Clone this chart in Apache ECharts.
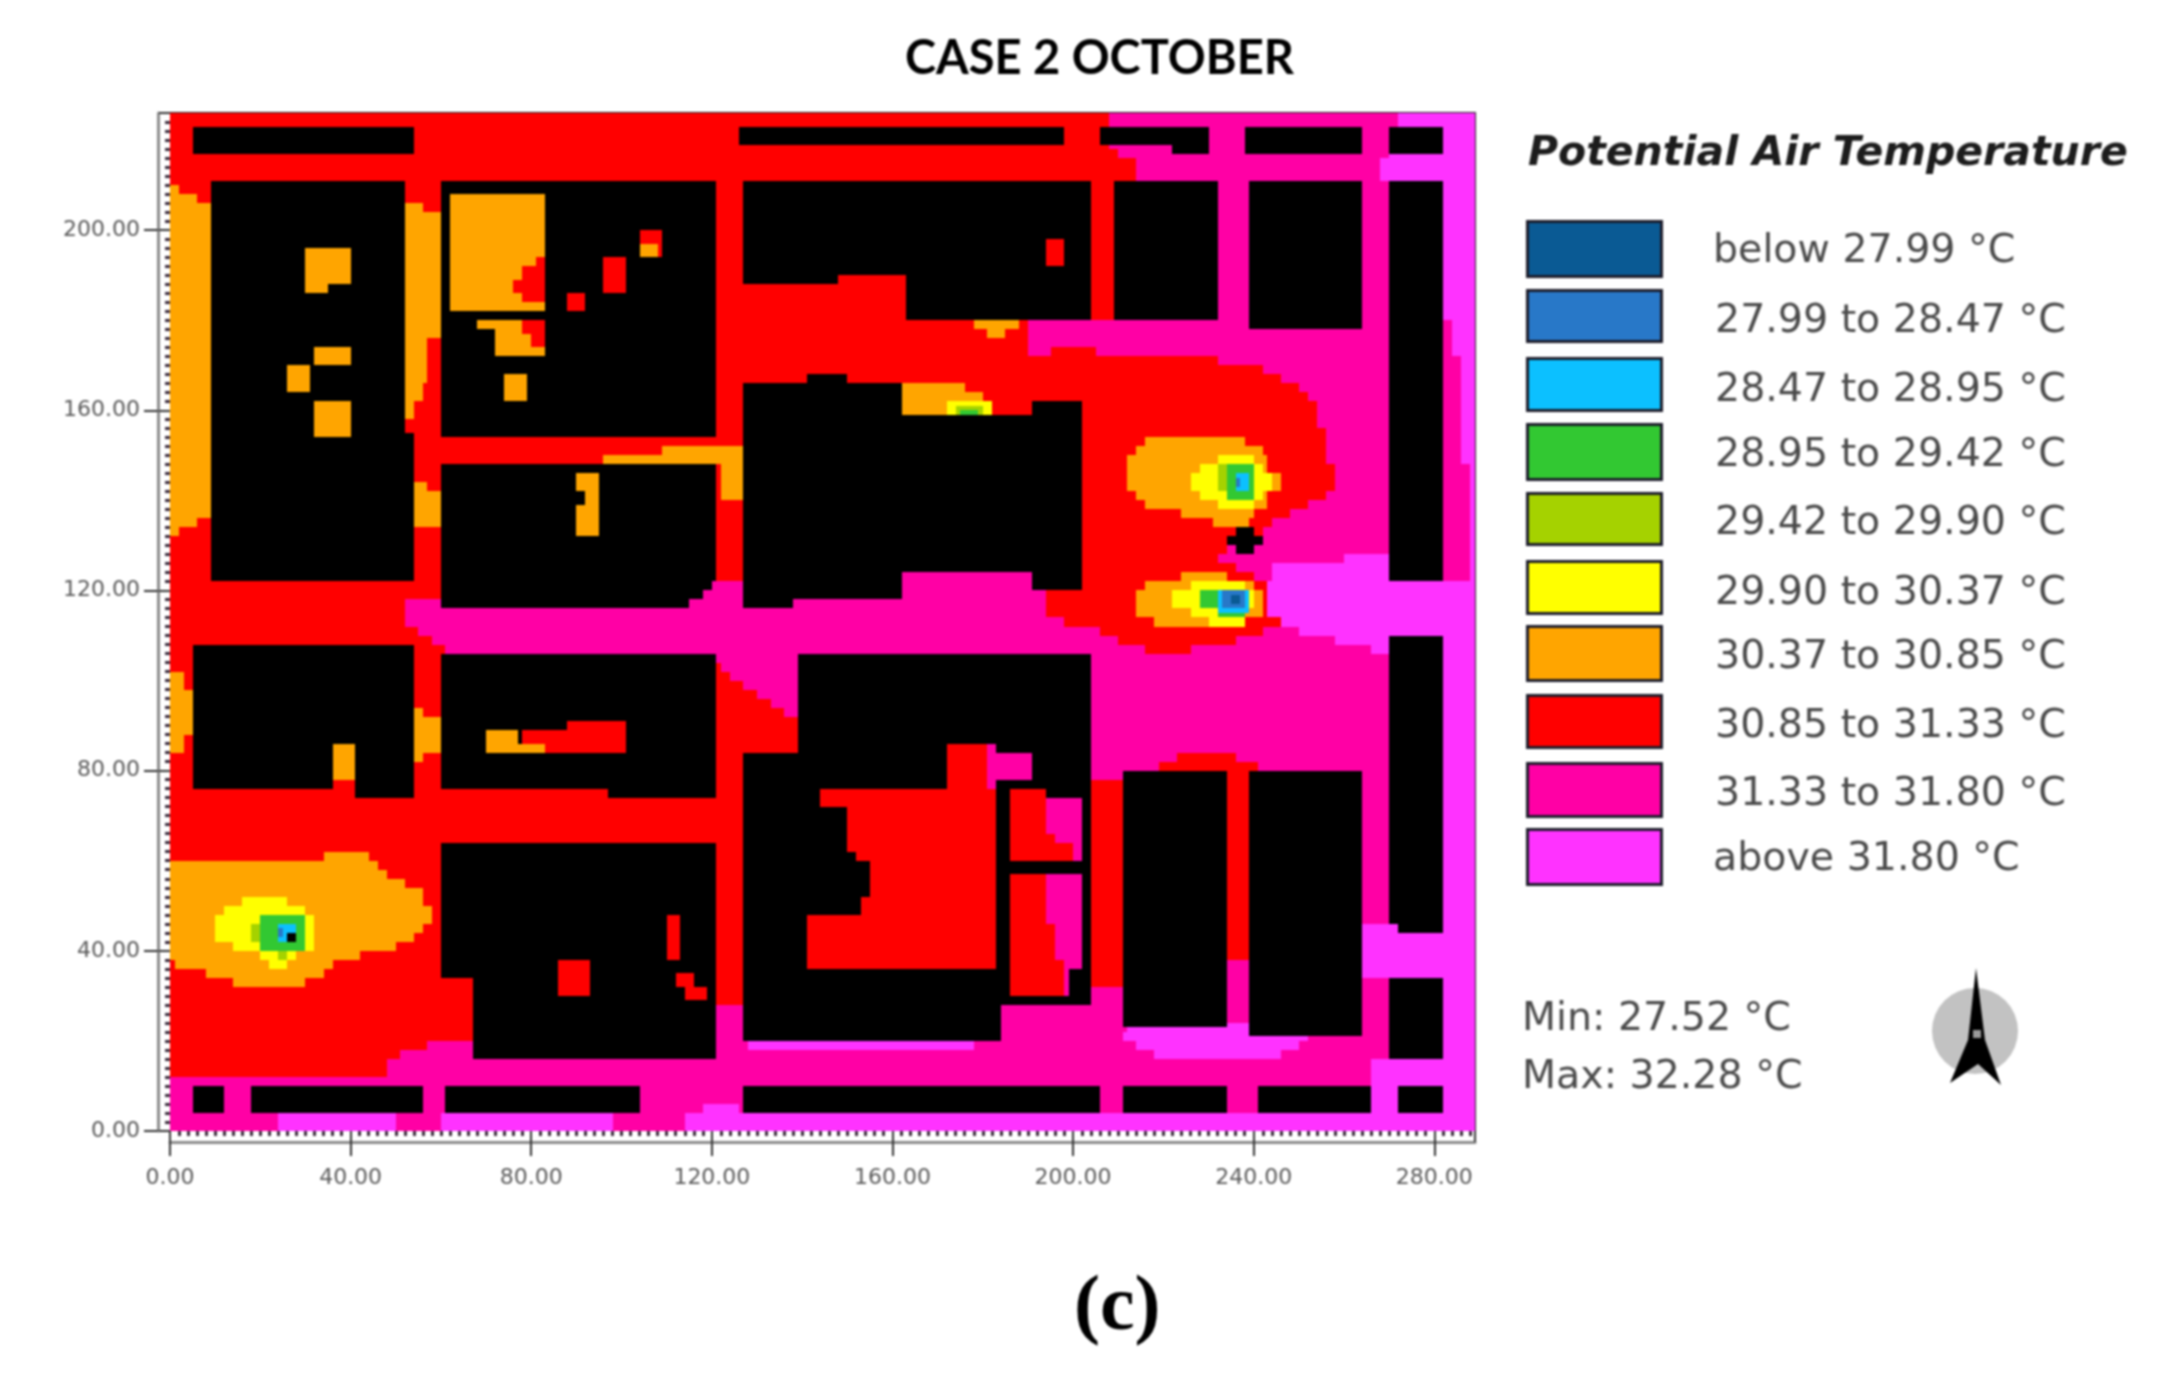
<!DOCTYPE html>
<html>
<head>
<meta charset="utf-8">
<style>html,body{margin:0;background:#fff}#chart{width:2162px;height:1374px;filter:blur(0.8px)}</style>
<script src="https://cdn.jsdelivr.net/npm/echarts@6/dist/echarts.min.js"></script>
</head>
<body>
<div id="chart"></div>
<script>
// temperature classes, coolest first. K = building
const classCodes = ['B', 'U', 'C', 'G', 'L', 'Y', 'O', 'R', 'M', 'P', 'K'];
const classColors = ['#0a5a94', '#2878c8', '#0cc0ff', '#32c832', '#a5d200', '#ffff00', '#ffa500', '#ff0000', '#ff00a5', '#ff32ff', '#000000'];
const legendLabels = ['below 27.99 °C', '27.99 to 28.47 °C', '28.47 to 28.95 °C', '28.95 to 29.42 °C', '29.42 to 29.90 °C',
    '29.90 to 30.37 °C', '30.37 to 30.85 °C', '30.85 to 31.33 °C', '31.33 to 31.80 °C', 'above 31.80 °C'];
const minMaxLabels = ['Min: 27.52 °C', 'Max: 32.28 °C'];

// air field, top down: [top of band, class + right end of each run]
const fieldBands = [
    [226, 'R208 M272 P290'], [222, 'R208 M276 P290'], [218, 'R210 M270 P290'], [216, 'R214 M268 P290'],
    [211, 'R210 M282 P290'], [180, 'R190 M284 P290'], [174, 'R190 M195 R205 M284 P290'],
    [172, 'R232 M286 P290'], [170, 'R242 M286 P290'], [168, 'R246 M286 P290'], [166, 'R250 M286 P290'],
    [164, 'R252 M286 P290'], [162, 'R254 M286 P290'], [156, 'R256 M286 P290'], [148, 'R258 M288 P290'],
    [142, 'R256 M288 P290'], [140, 'R252 M288 P290'], [138, 'R248 M288 P290'], [136, 'R244 M288 P290'],
    [134, 'R242 M288 P290'], [132, 'R234 M288 P290'], [128, 'R232 M260 P270 M288 P290'],
    [126, 'R236 M244 P270 M288 P290'], [124, 'R162 M194 R240 M244 P270 M288 P290'],
    [122, 'R60 M194 R243 P290'], [118, 'R52 M194 R243 P290'], [114, 'R52 M198 R246 P290'],
    [112, 'R55 M206 R242 M250 P290'], [110, 'R58 M210 R236 M258 P290'], [108, 'R61 M216 R226 M266 P290'],
    [106, 'R62 M270 P290'], [104, 'R122 M270 P290'], [102, 'R124 M270 P290'], [100, 'R127 M270 P290'],
    [98, 'R130 M270 P290'], [96, 'R133 M270 P290'], [94, 'R136 M270 P290'], [92, 'R139 M270 P290'],
    [86, 'R181 M270 P290'], [84, 'R181 M223 R236 M270 P290'], [82, 'R181 M219 R241 M270 P290'],
    [80, 'R181 M230 R241 M270 P290'], [78, 'R181 M204 R241 M270 P290'], [76, 'R194 M204 R241 M270 P290'],
    [66, 'R196 M204 R241 M270 P290'], [64, 'R200 M204 R241 M270 P290'], [60, 'R194 M204 R241 M270 P290'],
    [46, 'R196 M204 R241 M264 P290'], [38, 'R198 M204 R212 M264 P290'], [34, 'R198 M204 R212 M270 P290'],
    [32, 'R198 M270 P290'], [28, 'R121 M270 P290'], [20, 'R57 M270 P290'], [18, 'R51 M270 P290'],
    [16, 'R48 M266 P290'], [12, 'M266 P290'], [4, 'M24 P50 M60 P98 M114 P290'],
];

// warm and hot pockets: [class, x0, x1, y0, y1]
const airPatches = [
    ['O', 0, 2, 208, 210], ['O', 0, 6, 206, 208], ['O', 0, 9, 136, 206], ['O', 0, 6, 134, 136], ['O', 0, 2, 132, 134],
    ['O', 52, 56, 204, 206], ['O', 52, 60, 176, 204], ['O', 52, 57, 166, 176], ['O', 52, 56, 162, 166], ['O', 52, 54, 158, 162],
    ['O', 54, 57, 142, 144], ['O', 54, 60, 134, 142],
    ['O', 109, 127, 150, 152], ['O', 96, 127, 148, 150], ['O', 122, 127, 140, 148],
    ['O', 0, 3, 98, 102], ['O', 0, 5, 88, 98], ['O', 0, 3, 84, 88],
    ['O', 54, 56, 92, 94], ['O', 54, 60, 84, 92], ['O', 54, 56, 82, 84],
    ['O', 36, 41, 78, 86], ['O', 178, 188, 178, 180], ['O', 181, 185, 176, 178],
    ['P', 212, 240, 22, 24], ['P', 211, 252, 20, 22], ['P', 214, 250, 18, 20], ['P', 218, 246, 16, 18],
    ['P', 128, 178, 18, 20], ['P', 264, 270, 36, 46], ['P', 266, 272, 10, 16], ['P', 118, 126, 4, 6],
];
const plumeWest = [
    ['O', 34, 44, 60, 62], ['O', 0, 46, 58, 60], ['O', 0, 48, 56, 58], ['O', 0, 52, 54, 56], ['O', 0, 56, 50, 54],
    ['O', 0, 58, 46, 50], ['O', 0, 56, 44, 46], ['O', 0, 54, 42, 44], ['O', 0, 50, 40, 42], ['O', 0, 42, 38, 40],
    ['O', 1, 36, 36, 38], ['O', 8, 34, 34, 36], ['O', 14, 30, 32, 34],
    ['Y', 16, 26, 50, 52], ['Y', 12, 30, 48, 50], ['Y', 10, 32, 42, 48], ['Y', 14, 32, 40, 42], ['Y', 20, 28, 38, 40], ['Y', 22, 26, 36, 38],
    ['L', 18, 20, 42, 46], ['G', 20, 30, 40, 48], ['L', 24, 26, 38, 40], ['C', 24, 28, 42, 46], ['U', 24, 25, 43, 45],
];
const plumeEastUpper = [
    ['O', 216, 238, 152, 154], ['O', 214, 242, 150, 152], ['O', 212, 243, 146, 150], ['O', 212, 246, 142, 146],
    ['O', 214, 243, 140, 142], ['O', 216, 243, 138, 140], ['O', 224, 240, 136, 138], ['O', 231, 239, 134, 136],
    ['Y', 232, 240, 148, 150], ['Y', 228, 242, 146, 148], ['Y', 226, 244, 142, 146], ['Y', 228, 242, 140, 142], ['Y', 232, 240, 138, 140],
    ['L', 232, 234, 142, 148], ['G', 234, 240, 140, 148], ['C', 236, 239, 142, 146], ['U', 236, 237, 143, 145],
];
const plumeEastLower = [
    ['O', 224, 234, 122, 124], ['O', 216, 240, 120, 122], ['O', 214, 242, 114, 120], ['O', 218, 238, 112, 114],
    ['Y', 226, 238, 120, 122], ['Y', 222, 240, 116, 120], ['Y', 226, 238, 114, 116], ['Y', 230, 238, 112, 114],
    ['G', 228, 233, 116, 120], ['G', 232, 238, 114, 116], ['C', 232, 239, 115, 120], ['U', 233, 238, 116, 120], ['B', 235, 237, 117, 119],
];
const plumeNorth = [
    ['O', 162, 176, 164, 166], ['O', 162, 180, 162, 164], ['O', 162, 182, 158, 162],
    ['Y', 172, 182, 158, 162], ['L', 174, 180, 159, 161], ['G', 175, 179, 158, 160],
];

// building footprints: [x0, x1, y0, y1]
const footprints = [
    [5, 54, 217, 223], [126, 198, 219, 223], [206, 222, 219, 223], [222, 230, 217, 223], [238, 264, 217, 223], [270, 282, 217, 223],
    [9, 52, 122, 211], [52, 54, 122, 155], [60, 121, 154, 211],
    [60, 115, 116, 118], [60, 118, 118, 120], [60, 120, 120, 122], [60, 121, 122, 148],
    [127, 204, 190, 211], [127, 148, 188, 190], [163, 204, 180, 190], [209, 232, 180, 211], [239, 264, 178, 211], [270, 282, 122, 211],
    [127, 162, 118, 166], [141, 150, 166, 168], [127, 138, 116, 118], [162, 191, 124, 159], [191, 202, 120, 162],
    [236, 240, 132, 134], [234, 242, 130, 132], [236, 240, 128, 130],
    [270, 282, 46, 110], [272, 282, 44, 46], [270, 282, 16, 34],
    [5, 36, 76, 108], [36, 41, 86, 108], [41, 54, 74, 108],
    [60, 121, 76, 106], [97, 121, 74, 76], [60, 121, 34, 64], [67, 121, 16, 34],
    [139, 204, 84, 106], [127, 204, 28, 84], [127, 184, 20, 28],
    [211, 234, 23, 80], [239, 264, 21, 80],
    [5, 12, 4, 10], [18, 56, 4, 10], [61, 104, 4, 10], [127, 206, 4, 10], [211, 234, 4, 10], [241, 266, 4, 10], [272, 282, 4, 10],
    [26, 28, 42, 44],
];
// open courts cut out of the footprints: [x0, x1, y0, y1, class], no class = the air field shows
const courtyards = [
    [30, 40, 188, 196, 'O'], [30, 35, 186, 188, 'O'], [32, 40, 170, 174, 'O'], [26, 31, 164, 170, 'O'], [32, 40, 154, 162, 'O'],
    [62, 83, 182, 208, 'O'], [81, 83, 192, 194, 'R'], [78, 83, 189, 192, 'R'], [76, 83, 186, 189, 'R'], [78, 83, 184, 186, 'R'],
    [68, 83, 178, 180, 'O'], [72, 83, 172, 178, 'O'], [78, 83, 177, 180, 'R'], [80, 83, 174, 177, 'R'],
    [74, 79, 162, 168, 'O'], [96, 101, 186, 194], [88, 92, 182, 186], [104, 109, 194, 200, 'R'], [104, 108, 194, 197, 'O'],
    [90, 95, 132, 139, 'O'], [92, 95, 139, 142, 'O'], [90, 95, 142, 146, 'O'], [194, 198, 192, 198],
    [70, 77, 84, 89, 'O'], [77, 83, 84, 86, 'O'], [78, 88, 86, 89], [83, 88, 84, 86], [88, 101, 84, 91],
    [86, 93, 30, 38], [110, 113, 38, 48], [112, 116, 32, 35], [114, 119, 29, 32],
    [172, 183, 76, 86], [183, 191, 78, 84], [144, 183, 72, 76], [150, 183, 62, 72], [152, 183, 60, 62], [155, 183, 52, 60],
    [153, 183, 48, 52], [141, 183, 36, 48], [186, 194, 60, 76], [194, 202, 60, 74], [186, 202, 36, 57], [186, 199, 30, 36],
];

const X_MAX = 289;
const Y_MAX = 226;
const TICK_STEP = 40;

const paint = (cells, code, x0, x1, y0, y1) => {
    for (let y = y0; y < y1; y++) for (let x = x0; x < x1; x++) cells[y][x] = code;
};

// lay the field, pockets, footprints and courts into one raster, 1 unit per cell
const air = Array.from({ length: Y_MAX }, () => new Array(X_MAX).fill('R'));
fieldBands.forEach(([top, runs], i) => {
    const bottom = i + 1 < fieldBands.length ? fieldBands[i + 1][0] : 0;
    let from = 0;
    runs.split(' ').forEach((run) => {
        const end = Math.min(Number(run.slice(1)), X_MAX);
        paint(air, run[0], from, end, bottom, top);
        from = end;
    });
});
[airPatches, plumeWest, plumeEastUpper, plumeEastLower, plumeNorth].forEach((list) => {
    list.forEach(([code, x0, x1, y0, y1]) => paint(air, code, x0, x1, y0, y1));
});
const raster = air.map((row) => row.slice());
footprints.forEach(([x0, x1, y0, y1]) => paint(raster, 'K', x0, x1, y0, y1));
courtyards.forEach(([x0, x1, y0, y1, code]) => {
    if (code) paint(raster, code, x0, x1, y0, y1);
    else for (let y = y0; y < y1; y++) for (let x = x0; x < x1; x++) raster[y][x] = air[y][x];
});

// same-class cells in a row become one item: [x0, x1, y0, y1, class index]
const cellData = [];
raster.forEach((row, y) => {
    let start = 0;
    for (let x = 1; x <= row.length; x++) {
        if (x === row.length || row[x] !== row[start]) {
            cellData.push([start, x, y, y + 1, classCodes.indexOf(row[start])]);
            start = x;
        }
    }
});

const renderCell = (params, api) => {
    const a = api.coord([api.value(0), api.value(3)]);
    const b = api.coord([api.value(1), api.value(2)]);
    const left = Math.round(a[0]);
    const top = Math.round(a[1]);
    return {
        type: 'rect',
        shape: { x: left, y: top, width: Math.round(b[0]) - left, height: Math.round(b[1]) - top },
        style: { fill: classColors[api.value(4)] },
    };
};

const GREY_TEXT = '#4a4a4a';
const axisFont = { fontFamily: 'DejaVu Sans', fontSize: 22, color: '#5a5a5a' };

// main axes carry the labels, the second pair only draws the small ticks along the map
const mainAxis = (position, offset, max, margin) => ({
    type: 'value', position, offset, min: 0, max, interval: TICK_STEP,
    axisLine: { show: true, onZero: false, lineStyle: { color: '#8c8c8c', width: 3 } },
    axisTick: { show: true, length: 14, lineStyle: { color: '#333', width: 2 } },
    axisLabel: { ...axisFont, margin, showMaxLabel: false, formatter: (v) => v.toFixed(2) },
    splitLine: { show: false },
});
const dotAxis = (position, max) => ({
    type: 'value', position, min: 0, max, interval: TICK_STEP,
    axisLine: { show: false, onZero: false },
    axisTick: { show: true, length: 11, lineStyle: { color: '#333', width: 2 } },
    minorTick: { show: true, splitNumber: 20, length: 5, lineStyle: { color: '#3a2a3a', width: 3 } },
    axisLabel: { show: false },
    splitLine: { show: false },
});
const frameAxis = (position, max) => ({
    type: 'value', position, min: 0, max,
    axisLine: { show: true, onZero: false, lineStyle: { color: '#222', width: 2 } },
    axisTick: { show: false },
    axisLabel: { show: false },
    splitLine: { show: false },
});

// legend layout
const swatchTop = [220, 289, 357, 423, 492, 560, 625, 694, 762, 828];
const swatchBottom = [275, 340, 409, 478, 543, 612, 679, 746, 815, 883];
const labelCenter = [247, 317, 386, 451, 519, 589, 653, 722, 790, 855];

const graphics = [];
legendLabels.forEach((label, i) => {
    graphics.push({
        type: 'rect', left: 1526, top: swatchTop[i],
        shape: { width: 134, height: swatchBottom[i] - swatchTop[i] },
        style: { fill: classColors[i], stroke: '#1c1c2a', lineWidth: 3 },
    });
    graphics.push({
        type: 'text', left: i === 0 || i === 9 ? 1713 : 1715, top: labelCenter[i] - 15,
        style: { text: label, fontFamily: 'DejaVu Sans', fontSize: 39.5, fill: GREY_TEXT },
    });
});
graphics.push({
    type: 'text', left: 1528, top: 134,
    style: { text: 'Potential Air Temperature', fontFamily: 'DejaVu Sans', fontStyle: 'italic', fontWeight: 'bold', fontSize: 41, fill: '#1c1c1c' },
});
minMaxLabels.forEach((label, i) => {
    graphics.push({
        type: 'text', left: 1522, top: [1000, 1058][i],
        style: { text: label, fontFamily: 'DejaVu Sans', fontSize: 39.5, fill: GREY_TEXT },
    });
});
graphics.push({ type: 'circle', shape: { cx: 1975, cy: 1031, r: 43 }, style: { fill: '#c2c2c2' } });
graphics.push({
    type: 'polygon',
    shape: { points: [[1976, 968], [1985, 1040], [2001, 1085], [1978, 1064], [1950, 1083], [1968, 1040]] },
    style: { fill: '#000' },
});
graphics.push({ type: 'rect', shape: { x: 1973, y: 1030, width: 8, height: 8 }, style: { fill: '#9a9a9a' } });
graphics.push({
    type: 'text', left: 1074, top: 1270,
    style: { text: '(c)', fontFamily: 'Liberation Serif', fontWeight: 'bold', fontSize: 78, fill: '#000' },
});

const chart = echarts.init(document.getElementById('chart'), null, { renderer: 'canvas' });
chart.setOption({
    animation: false,
    backgroundColor: '#fff',
    title: {
        text: 'CASE 2 OCTOBER', left: 900, top: 30,
        textStyle: { fontFamily: 'Lato', fontWeight: 'bold', fontSize: 47, color: '#000' },
    },
    grid: { left: 170, top: 113, width: 1305, height: 1018 },
    xAxis: [mainAxis('bottom', 11, X_MAX, 25), dotAxis('bottom', X_MAX), frameAxis('top', X_MAX)],
    yAxis: [mainAxis('left', 12, Y_MAX, 18), dotAxis('left', Y_MAX), frameAxis('right', Y_MAX)],
    graphic: graphics,
    series: [{
        type: 'custom',
        renderItem: renderCell,
        data: cellData,
        encode: { x: [0, 1], y: [2, 3] },
        progressive: 0,
        silent: true,
        clip: true,
    }],
});
</script>
</body>
</html>
